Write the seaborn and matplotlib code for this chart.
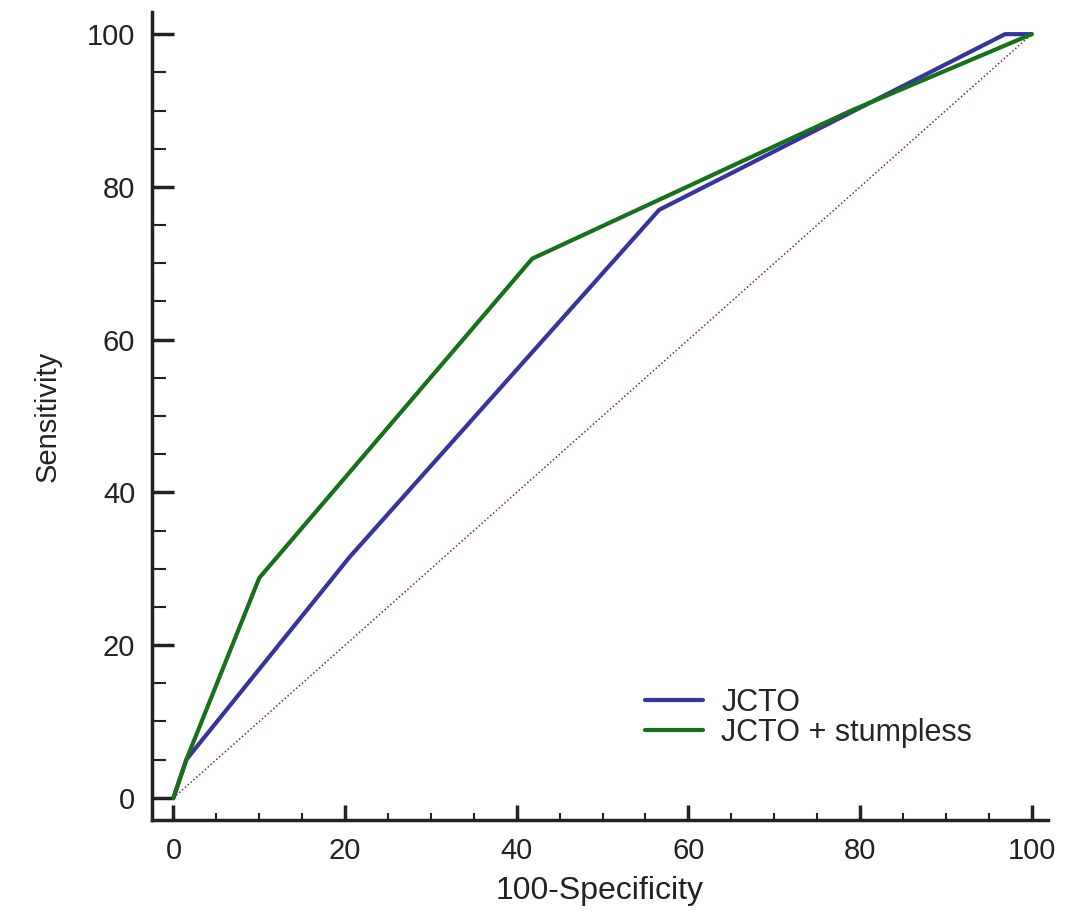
import numpy as np
import pandas as pd
import seaborn as sns
import matplotlib.pyplot as plt
from matplotlib.ticker import MultipleLocator

# ROC 곡선 좌표
jcto_fpr = [0, 1.5, 20.5, 56.6, 96.9, 100]
jcto_tpr = [0, 5.0, 31.5, 77.0, 100, 100]
stump_fpr = [0, 1.5, 10.0, 41.8, 79.0, 100]
stump_tpr = [0, 5.0, 28.8, 70.6, 90.0, 100]
labels = ["JCTO", "JCTO + stumpless"]
colors = ["#36359e", "#17701a"]

sns.set_style("ticks")
plt.rcParams['font.family'] = ['Liberation Sans', 'DejaVu Sans']

df = pd.concat([
    pd.DataFrame({"fpr": jcto_fpr, "tpr": jcto_tpr, "model": labels[0]}),
    pd.DataFrame({"fpr": stump_fpr, "tpr": stump_tpr, "model": labels[1]}),
])

fig = plt.figure(figsize=(10.65, 9.15), dpi=100)
ax = fig.add_axes([152 / 1065, 1 - 820 / 915, (1048 - 152) / 1065, (820 - 12) / 915])

# 대각선 (기준선)
ax.plot([0, 100], [0, 100], color="#7a3030", linestyle=(0, (1, 1.5)), linewidth=1.1)

sns.lineplot(data=df, x="fpr", y="tpr", hue="model", palette=colors,
             estimator=None, sort=False, linewidth=3, ax=ax)

ax.set_xlim(-2.5, 101.9)
ax.set_ylim(-2.9, 102.9)
ax.xaxis.set_major_locator(MultipleLocator(20))
ax.xaxis.set_minor_locator(MultipleLocator(5))
ax.yaxis.set_major_locator(MultipleLocator(20))
ax.yaxis.set_minor_locator(MultipleLocator(5))

for side in ["top", "right"]:
    ax.spines[side].set_visible(False)
for side in ["left", "bottom"]:
    ax.spines[side].set_linewidth(2.5)
    ax.spines[side].set_color("#222222")

ax.tick_params(axis="x", which="major", direction="in", length=11, width=2.5, pad=12,
               labelsize=21, colors="#222222")
ax.tick_params(axis="x", which="minor", direction="in", length=5, width=1.5, colors="#222222")
ax.tick_params(axis="y", which="major", direction="in", length=16, width=2.5, pad=12,
               labelsize=21, colors="#222222")
ax.tick_params(axis="y", which="minor", direction="in", length=10, width=1.5, colors="#222222")

ax.set_xlabel("100-Specificity", fontsize=23, color="#222222", labelpad=8)
ax.set_ylabel("Sensitivity", fontsize=21, color="#222222", labelpad=18)

leg = ax.legend(loc="upper left", bbox_to_anchor=(645 / 1065, 1 - 688 / 915),
                bbox_transform=fig.transFigure, frameon=False, fontsize=22,
                handlelength=1.9, handletextpad=0.6, labelspacing=0.0,
                borderpad=0, borderaxespad=0)
for line in leg.get_lines():
    line.set_linewidth(3)

fig.savefig("out.png", dpi=100)
